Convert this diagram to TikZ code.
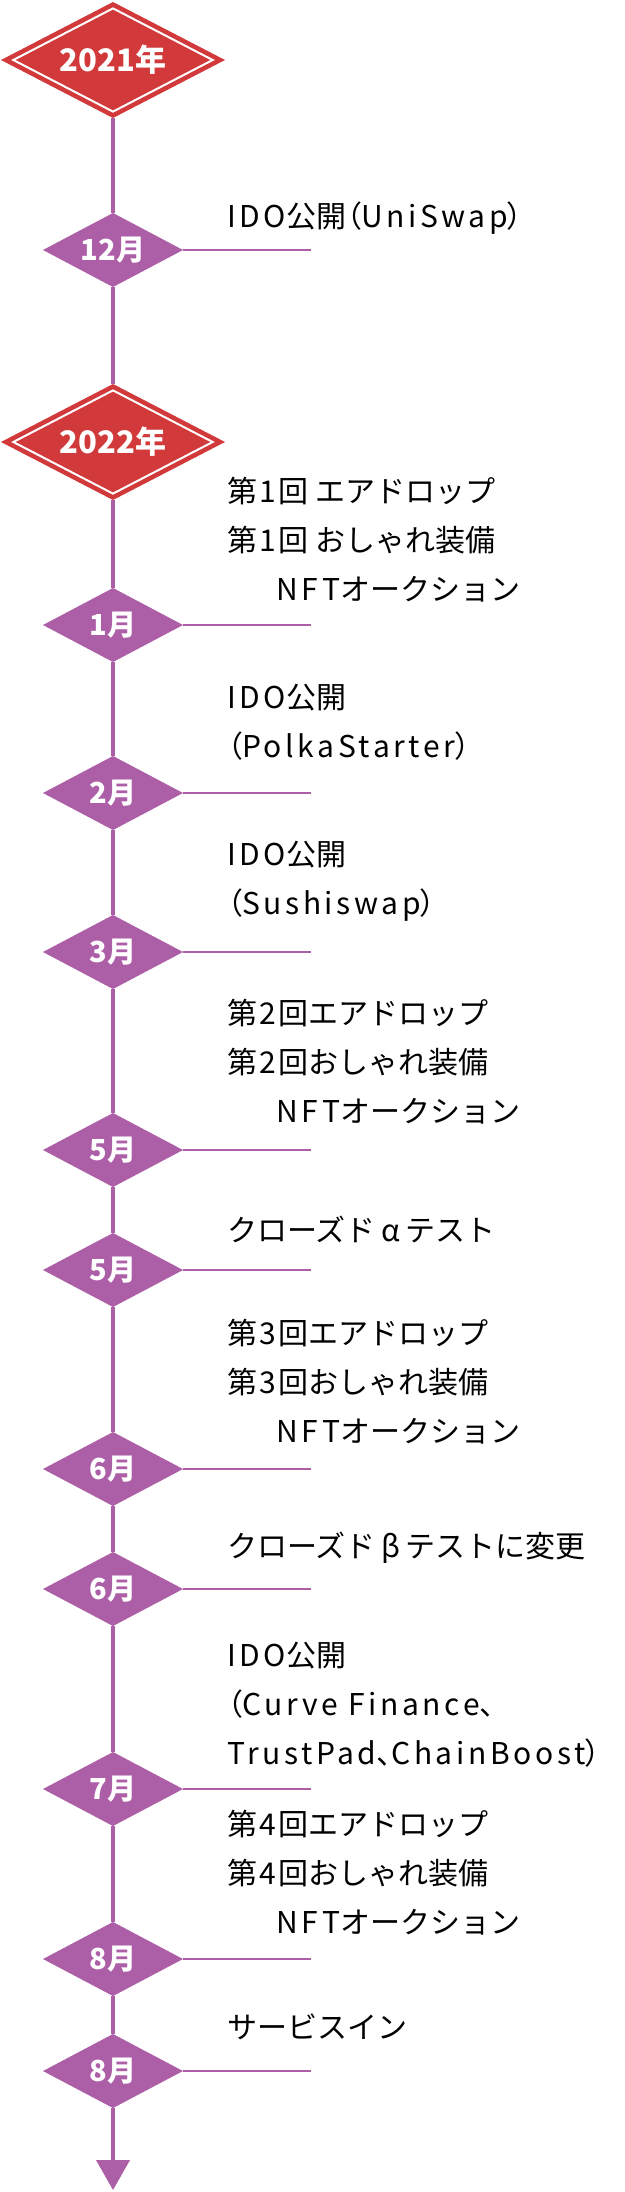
\documentclass[tikz,border=0pt]{standalone}
\usepackage{fontspec}
\setmainfont{Noto Sans CJK JP}
\newfontfamily\latinfont{Noto Sans CJK JP}[LetterSpace=12]
\newfontfamily\punctfont{Noto Sans CJK JP}[RawFeature=+palt]
\newcommand\lat[1]{{\latinfont #1}}
\newcommand\pun[1]{{\punctfont #1}}
\newcommand\wid[1]{\makebox[1em]{#1}}
\newcommand\num[1]{\hspace{0.08em}#1\hspace{0.08em}}
\usetikzlibrary{arrows.meta,shapes.geometric,calc}
\definecolor{yearred}{HTML}{D1393A}
\definecolor{linepurple}{HTML}{AC5EA6}

\begin{document}
\begin{tikzpicture}[
  x=1pt, y=-1pt,
  month/.style={diamond, fill=linepurple, minimum width=140pt, minimum height=74pt,
    inner sep=0pt, outer sep=0pt, shape aspect=1.9, text=white,
    font=\fontsize{29}{29}\selectfont\bfseries},
  year/.style={diamond, fill=yearred, minimum width=224pt, minimum height=116pt,
    inner sep=0pt, outer sep=0pt, shape aspect=1.9, text=white,
    font=\fontsize{31}{31}\selectfont\bfseries,
    path picture={\draw[white, line width=2pt, line join=miter]
      ($(path picture bounding box.center)!0.89!(path picture bounding box.north)$) --
      ($(path picture bounding box.center)!0.89!(path picture bounding box.east)$) --
      ($(path picture bounding box.center)!0.89!(path picture bounding box.south)$) --
      ($(path picture bounding box.center)!0.89!(path picture bounding box.west)$) -- cycle;}},
  spine/.style={draw=linepurple, line width=4pt},
  branch/.style={draw=linepurple, line width=2pt},
  event/.style={anchor=west, align=left, inner sep=0pt, font=\fontsize{30}{49}\selectfont}
]
  \useasboundingbox (0,0) rectangle (624,2192);

  % years and months
  \node[year]  (y2021) at (113,60)   {2021年};
  \node[month] (m12)   at (113,250)  {12月};
  \node[year]  (y2022) at (113,442)  {2022年};
  \node[month] (m1)    at (113,625)  {1月};
  \node[month] (m2)    at (113,793)  {2月};
  \node[month] (m3)    at (113,952)  {3月};
  \node[month] (m5a)   at (113,1150) {5月};
  \node[month] (m5b)   at (113,1270) {5月};
  \node[month] (m6a)   at (113,1469) {6月};
  \node[month] (m6b)   at (113,1589) {6月};
  \node[month] (m7)    at (113,1789) {7月};
  \node[month] (m8a)   at (113,1959) {8月};
  \node[month] (m8b)   at (113,2071) {8月};
  \coordinate (edge) at (311,0);
  \coordinate (tip) at (113,2190);

  % events
  \node[event] (e1)  at (227,218)  {\lat{IDO}公開\pun{（}\lat{UniSwap}\pun{）}};
  \node[event] (e2)  at (227,540)  {第\num{1}回 エアドロップ\\第\num{1}回 おしゃれ装備\\\hspace*{1.65em}\lat{NFT}オークション};
  \node[event] (e3)  at (227,722)  {\lat{IDO}公開\\\pun{（}\lat{PolkaStarter}\pun{）}};
  \node[event] (e4)  at (227,881)  {\lat{IDO}公開\\\pun{（}\lat{Sushiswap}\pun{）}};
  \node[event] (e5)  at (227,1062) {第\num{2}回エアドロップ\\第\num{2}回おしゃれ装備\\\hspace*{1.65em}\lat{NFT}オークション};
  \node[event] (e6)  at (227,1229) {クローズド\wid{α}テスト};
  \node[event] (e7)  at (227,1382) {第\num{3}回エアドロップ\\第\num{3}回おしゃれ装備\\\hspace*{1.65em}\lat{NFT}オークション};
  \node[event] (e8)  at (227,1548) {クローズド\wid{β}テストに変更};
  \node[event] (e9)  at (227,1705) {\lat{IDO}公開\\\pun{（}\lat{Curve Finance}\pun{、}\\\lat{TrustPad}\pun{、}\lat{ChainBoost}\pun{）}};
  \node[event] (e10) at (227,1873) {第\num{4}回エアドロップ\\第\num{4}回おしゃれ装備\\\hspace*{1.65em}\lat{NFT}オークション};
  \node[event] (e11) at (227,2027) {サービスイン};

  % timeline
  \foreach \a/\b in {y2021/m12, m12/y2022, y2022/m1, m1/m2, m2/m3, m3/m5a, m5a/m5b,
                     m5b/m6a, m6a/m6b, m6b/m7, m7/m8a, m8a/m8b}
    \draw[spine] (\a) -- (\b);
  \draw[spine, -{Triangle[width=33pt, length=30pt]}] (m8b) -- (tip);
  \foreach \m in {m12, m1, m2, m3, m5a, m5b, m6a, m6b, m7, m8a, m8b}
    \draw[branch] (\m.east) -- (\m.east -| edge);
\end{tikzpicture}
\end{document}
